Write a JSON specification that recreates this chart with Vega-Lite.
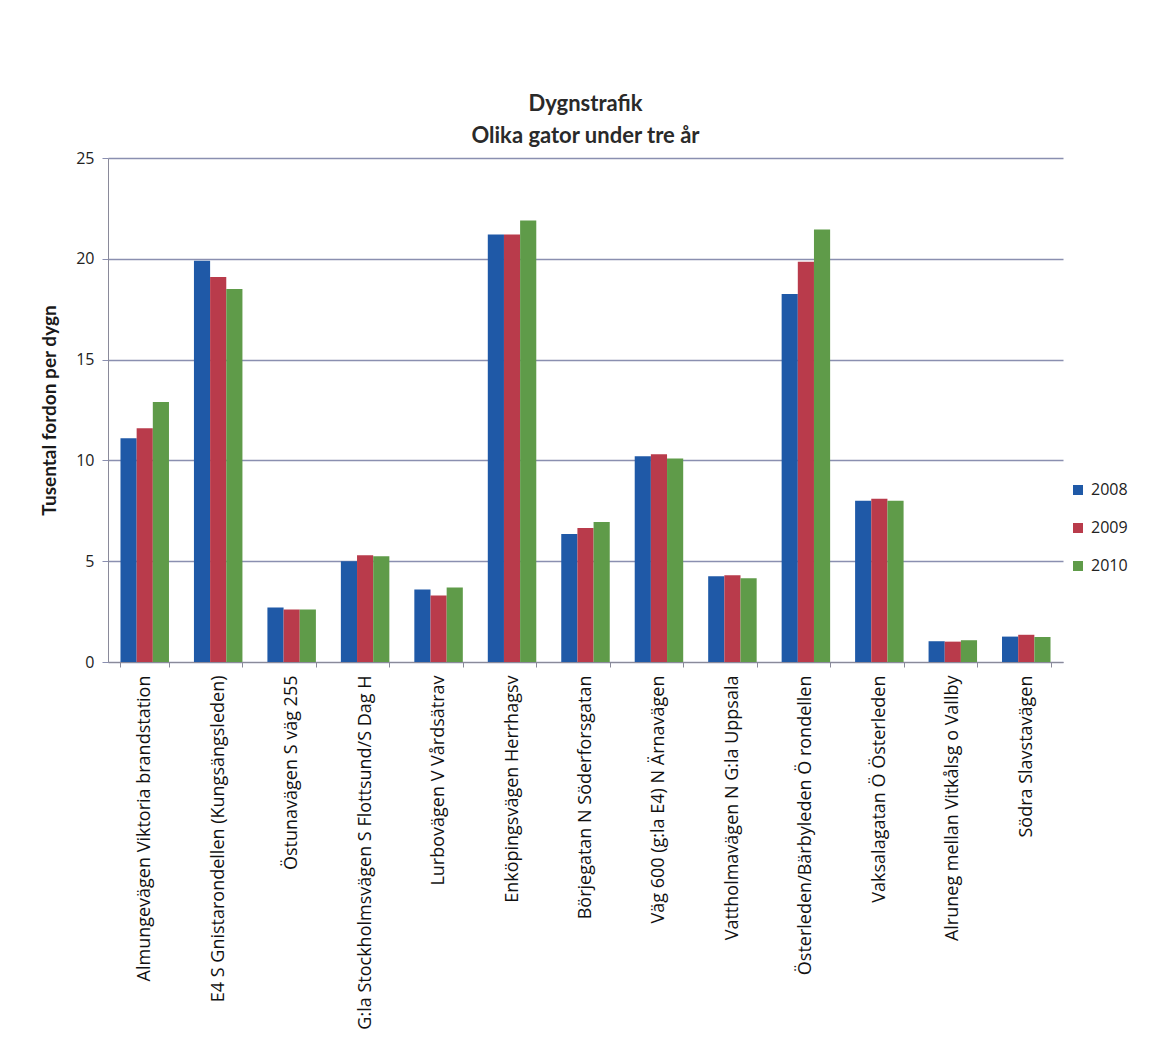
{
  "$schema": "https://vega.github.io/schema/vega-lite/v6.json",
  "autosize": {"type": "none"},
  "width": 955,
  "height": 504,
  "padding": {"left": 108, "top": 158, "right": 99, "bottom": 379},
  "background": "white",
  "title": {
    "text": ["Dygnstrafik", "Olika gator under tre år"],
    "anchor": "middle",
    "font": "Lato",
    "fontSize": 22,
    "fontWeight": "bold",
    "color": "#2a2a2a",
    "lineHeight": 32,
    "offset": 2
  },
  "data": {
    "values": [
      {"gata": "Almungevägen Viktoria brandstation", "ar": "2008", "trafik": 11.1},
      {"gata": "Almungevägen Viktoria brandstation", "ar": "2009", "trafik": 11.6},
      {"gata": "Almungevägen Viktoria brandstation", "ar": "2010", "trafik": 12.9},
      {"gata": "E4 S Gnistarondellen (Kungsängsleden)", "ar": "2008", "trafik": 19.9},
      {"gata": "E4 S Gnistarondellen (Kungsängsleden)", "ar": "2009", "trafik": 19.1},
      {"gata": "E4 S Gnistarondellen (Kungsängsleden)", "ar": "2010", "trafik": 18.5},
      {"gata": "Östunavägen S väg 255", "ar": "2008", "trafik": 2.7},
      {"gata": "Östunavägen S väg 255", "ar": "2009", "trafik": 2.6},
      {"gata": "Östunavägen S väg 255", "ar": "2010", "trafik": 2.6},
      {"gata": "G:la Stockholmsvägen S Flottsund/S Dag H", "ar": "2008", "trafik": 5.0},
      {"gata": "G:la Stockholmsvägen S Flottsund/S Dag H", "ar": "2009", "trafik": 5.3},
      {"gata": "G:la Stockholmsvägen S Flottsund/S Dag H", "ar": "2010", "trafik": 5.25},
      {"gata": "Lurbovägen V Vårdsätrav", "ar": "2008", "trafik": 3.6},
      {"gata": "Lurbovägen V Vårdsätrav", "ar": "2009", "trafik": 3.3},
      {"gata": "Lurbovägen V Vårdsätrav", "ar": "2010", "trafik": 3.7},
      {"gata": "Enköpingsvägen  Herrhagsv", "ar": "2008", "trafik": 21.2},
      {"gata": "Enköpingsvägen  Herrhagsv", "ar": "2009", "trafik": 21.2},
      {"gata": "Enköpingsvägen  Herrhagsv", "ar": "2010", "trafik": 21.9},
      {"gata": "Börjegatan N Söderforsgatan", "ar": "2008", "trafik": 6.35},
      {"gata": "Börjegatan N Söderforsgatan", "ar": "2009", "trafik": 6.65},
      {"gata": "Börjegatan N Söderforsgatan", "ar": "2010", "trafik": 6.95},
      {"gata": "Väg 600 (g:la E4) N Ärnavägen", "ar": "2008", "trafik": 10.2},
      {"gata": "Väg 600 (g:la E4) N Ärnavägen", "ar": "2009", "trafik": 10.3},
      {"gata": "Väg 600 (g:la E4) N Ärnavägen", "ar": "2010", "trafik": 10.1},
      {"gata": "Vattholmavägen N G:la Uppsala", "ar": "2008", "trafik": 4.25},
      {"gata": "Vattholmavägen N G:la Uppsala", "ar": "2009", "trafik": 4.3},
      {"gata": "Vattholmavägen N G:la Uppsala", "ar": "2010", "trafik": 4.15},
      {"gata": "Österleden/Bärbyleden Ö rondellen", "ar": "2008", "trafik": 18.25},
      {"gata": "Österleden/Bärbyleden Ö rondellen", "ar": "2009", "trafik": 19.85},
      {"gata": "Österleden/Bärbyleden Ö rondellen", "ar": "2010", "trafik": 21.45},
      {"gata": "Vaksalagatan Ö Österleden", "ar": "2008", "trafik": 8.0},
      {"gata": "Vaksalagatan Ö Österleden", "ar": "2009", "trafik": 8.1},
      {"gata": "Vaksalagatan Ö Österleden", "ar": "2010", "trafik": 8.0},
      {"gata": "Alruneg mellan Vitkålsg o Vallby", "ar": "2008", "trafik": 1.03},
      {"gata": "Alruneg mellan Vitkålsg o Vallby", "ar": "2009", "trafik": 1.01},
      {"gata": "Alruneg mellan Vitkålsg o Vallby", "ar": "2010", "trafik": 1.08},
      {"gata": "Södra Slavstavägen", "ar": "2008", "trafik": 1.26},
      {"gata": "Södra Slavstavägen", "ar": "2009", "trafik": 1.35},
      {"gata": "Södra Slavstavägen", "ar": "2010", "trafik": 1.24}
    ]
  },
  "mark": {"type": "bar"},
  "encoding": {
    "x": {
      "field": "gata",
      "type": "nominal",
      "sort": null,
      "title": null,
      "scale": {"paddingInner": 0.34, "paddingOuter": 0.17},
      "axis": {
        "labelAngle": -90,
        "labelAlign": "right",
        "labelBaseline": "middle",
        "labelFont": "Open Sans",
        "labelFontSize": 18,
        "labelColor": "#111111",
        "labelPadding": 8,
        "labelLimit": 400,
        "tickBand": "extent",
        "tickSize": 5,
        "tickColor": "#8a8a9a",
        "domainColor": "#8a8a9a",
        "grid": false
      }
    },
    "xOffset": {"field": "ar", "type": "nominal", "scale": {"paddingInner": 0}},
    "y": {
      "field": "trafik",
      "type": "quantitative",
      "title": "Tusental fordon per dygn",
      "scale": {"domain": [0, 25], "nice": false},
      "axis": {
        "values": [0, 5, 10, 15, 20, 25],
        "labelFont": "Open Sans",
        "labelFontSize": 16,
        "labelColor": "#222222",
        "labelPadding": 8,
        "tickSize": 6,
        "tickColor": "#8a8fb0",
        "domainColor": "#8a8a9a",
        "gridColor": "#8a8fb0",
        "gridWidth": 1.5,
        "titleFont": "Lato",
        "titleFontSize": 19,
        "titleFontWeight": "bold",
        "titleColor": "#1a1a1a",
        "titlePadding": 16
      }
    },
    "color": {
      "field": "ar",
      "type": "nominal",
      "scale": {"domain": ["2008", "2009", "2010"], "range": ["#1f59a7", "#b93b4b", "#5f9b49"]},
      "legend": {
        "title": null,
        "orient": "none",
        "legendX": 962,
        "legendY": 324,
        "symbolType": "square",
        "symbolSize": 100,
        "symbolStrokeWidth": 0,
        "labelFont": "Open Sans",
        "labelFontSize": 16,
        "labelColor": "#222222",
        "rowPadding": 22,
        "labelOffset": 5
      }
    }
  },
  "config": {"view": {"stroke": null}}
}
